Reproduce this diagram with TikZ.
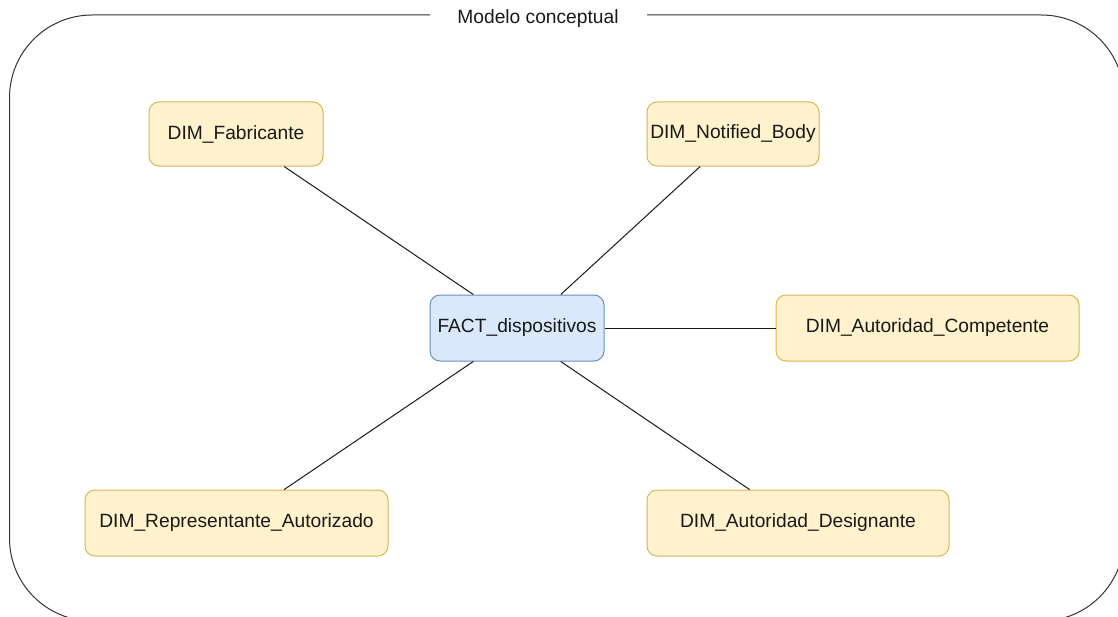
\documentclass[tikz,border=0pt]{standalone}
\usepackage{fontspec}
\setmainfont{Liberation Sans}
\usetikzlibrary{calc}
\definecolor{dimfill}{HTML}{FFF2CC}
\definecolor{dimline}{HTML}{D6B656}
\definecolor{factfill}{HTML}{DAE8FC}
\definecolor{factline}{HTML}{6C8EBF}
\definecolor{framecol}{HTML}{333333}
\tikzset{
  box/.style={draw, rounded corners=7.5pt, line width=0.75pt, inner sep=0pt,
    font=\fontsize{14.4pt}{17pt}\selectfont, text=black!90},
  dimbox/.style={box, fill=dimfill, draw=dimline},
  factbox/.style={box, fill=factfill, draw=factline},
  link/.style={draw=black!90, line width=0.75pt},
}
\begin{document}
\begin{tikzpicture}[x=0.75pt, y=-0.75pt]
  \useasboundingbox (0,0) rectangle (1118,617);
  \clip (0,0) rectangle (1118,617);
  % outer container with a gap for its title
  \draw[framecol, line width=0.75pt, rounded corners=62pt]
    (430,15) -| (9.5,621) -| (1124,15) -- (647,15);
  \node[font=\fontsize{14.4pt}{17pt}\selectfont, text=black!90] (title) at (538,19) {Modelo conceptual};

  % fact table
  \node[factbox, minimum width=130.5pt, minimum height=49.5pt] (fact) at (517,328) {FACT\_dispositivos};

  % dimensions
  \node[dimbox, minimum width=130.5pt, minimum height=48pt] (fab) at (236,134) {DIM\_Fabricante};
  \node[dimbox, minimum width=129pt, minimum height=48pt] (nb) at (733,134) {DIM\_Notified\_Body};
  \node[dimbox, minimum width=227.25pt, minimum height=49.5pt] (comp) at (927.5,328) {DIM\_Autoridad\_Competente};
  \node[dimbox, minimum width=227.25pt, minimum height=49.5pt] (rep) at (236.5,523) {DIM\_Representante\_Autorizado};
  \node[dimbox, minimum width=226.5pt, minimum height=49.5pt] (des) at (798,523) {DIM\_Autoridad\_Designante};

  % attachment points
  \coordinate (fNW) at ($(fact.north west)!0.25!(fact.north east)$);
  \coordinate (fNE) at ($(fact.north west)!0.75!(fact.north east)$);
  \coordinate (fSW) at ($(fact.south west)!0.25!(fact.south east)$);
  \coordinate (fSE) at ($(fact.south west)!0.75!(fact.south east)$);
  \coordinate (fabS) at ($(fab.south west)!0.775!(fab.south east)$);
  \coordinate (nbS) at ($(nb.south west)!0.31!(nb.south east)$);
  \coordinate (repN) at ($(rep.north west)!0.657!(rep.north east)$);
  \coordinate (desN) at ($(des.north west)!0.34!(des.north east)$);

  % connectors
  \draw[link] (fNW) -- (fabS);
  \draw[link] (fNE) -- (nbS);
  \draw[link] (fact.east) -- (comp.west);
  \draw[link] (fSW) -- (repN);
  \draw[link] (fSE) -- (desN);
\end{tikzpicture}
\end{document}
